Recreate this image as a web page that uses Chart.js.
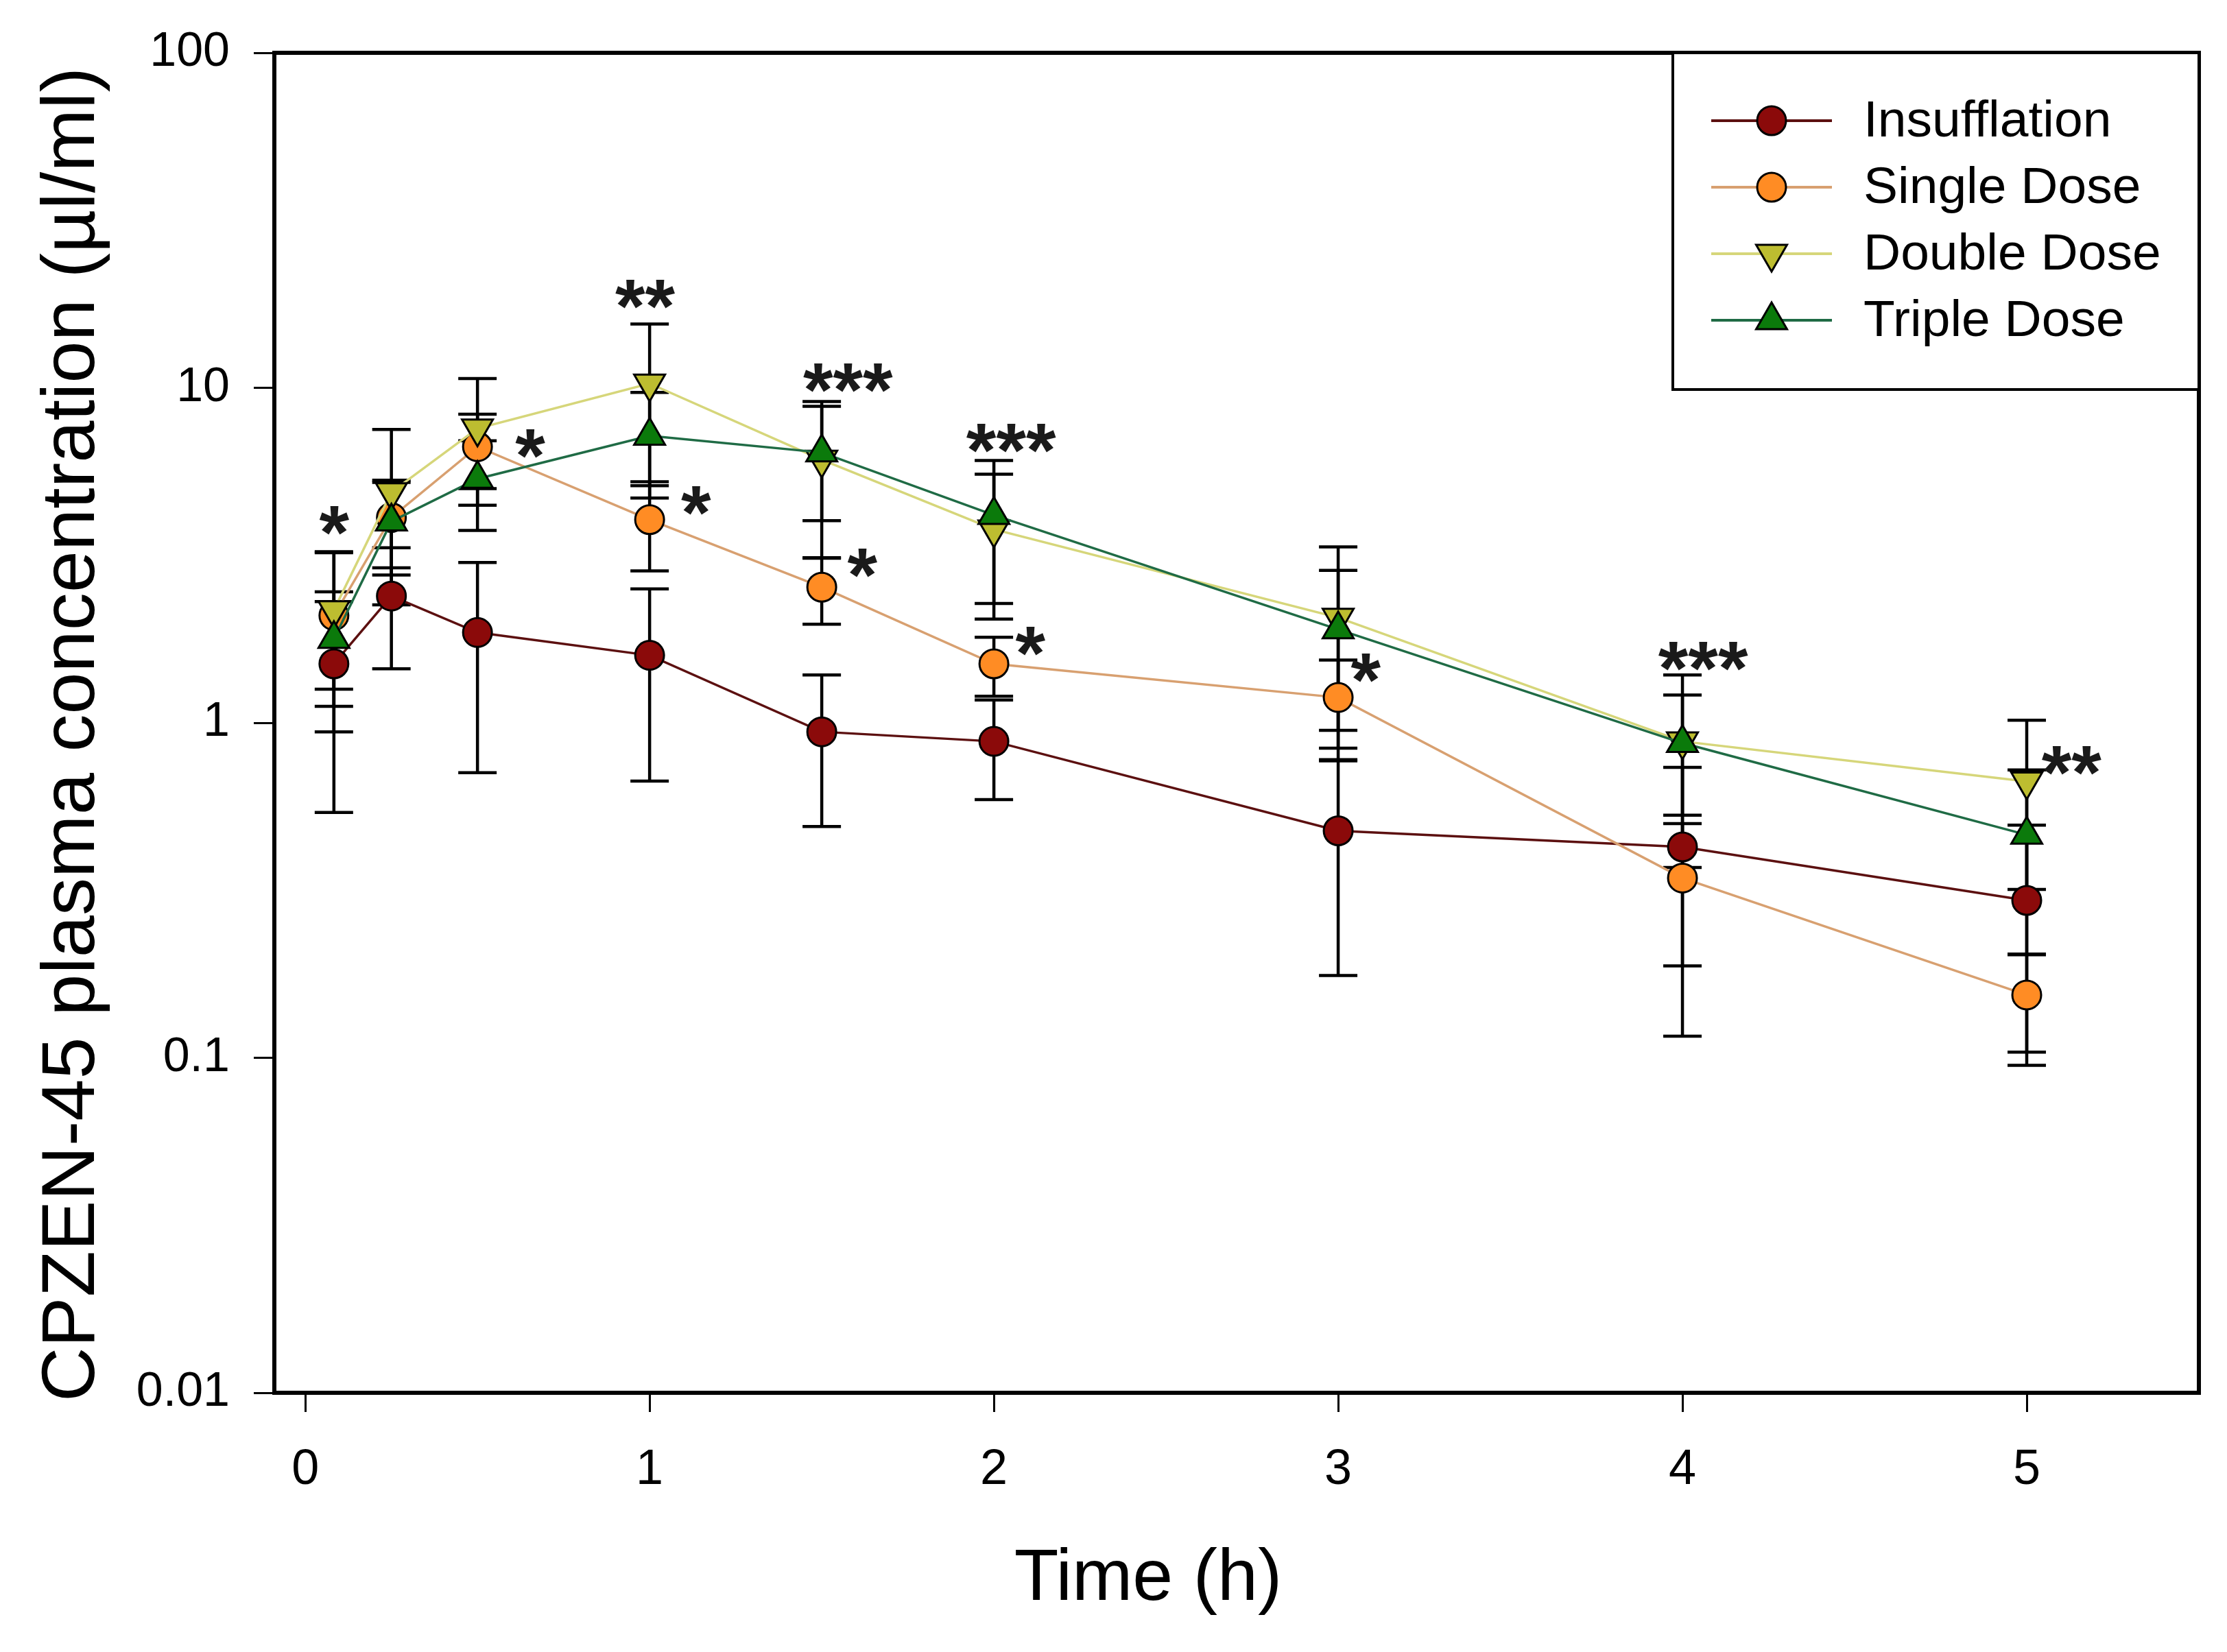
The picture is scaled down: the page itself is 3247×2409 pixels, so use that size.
<!DOCTYPE html>
<html>
<head>
<meta charset="utf-8">
<title>CPZEN-45 plasma concentration</title>
<script src="https://cdn.jsdelivr.net/npm/chart.js@4.4.1/dist/chart.umd.min.js"></script>
<style>
  html, body { margin: 0; padding: 0; background: #fff; }
  #wrap { width: 3247px; height: 2409px; }
</style>
</head>
<body>
<div id="wrap"><canvas id="pkChart" width="3247" height="2409"></canvas></div>
<script>
// time points (h)
const timePoints = [0.083, 0.25, 0.5, 1, 1.5, 2, 3, 4, 5];

// means and SD
const insufflationMean = [1.50, 2.39, 1.86, 1.59, 0.94, 0.88, 0.476, 0.426, 0.295];
const insufflationSD   = [0.96, 0.94, 1.15, 0.92, 0.45, 0.29, 0.30, 0.31, 0.20];

const singleMean = [2.09, 4.10, 6.67, 4.04, 2.54, 1.50, 1.19, 0.344, 0.154];
const singleSD   = [1.15, 1.20, 1.67, 1.20, 0.57, 0.30, 0.35, 0.156, 0.05];

const doubleMean = [2.17, 4.88, 7.56, 10.3, 6.10, 3.78, 2.06, 0.88, 0.668];
const doubleSD   = [1.05, 2.63, 3.10, 5.20, 3.00, 1.74, 1.29, 0.51, 0.35];

const tripleMean = [1.78, 3.99, 5.35, 7.19, 6.41, 4.17, 1.90, 0.87, 0.463];
const tripleSD   = [0.52, 1.23, 1.60, 2.50, 2.40, 1.90, 0.95, 0.34, 0.26];

const seriesNames = ['Insufflation', 'Single Dose', 'Double Dose', 'Triple Dose'];

// significance marks
const starX    = [0.084, 0.653, 0.987, 1.135, 1.576, 1.618, 2.05, 2.106, 3.08, 4.06, 5.13];
const starY    = [4.01, 6.80, 19.0, 4.6, 10.7, 3.0, 7.07, 1.75, 1.46, 1.58, 0.77];
const starText = ['*', '*', '**', '*', '***', '*', '***', '*', '*', '***', '**'];

const xTickValues = [0, 1, 2, 3, 4, 5];
const yTickValues = [0.01, 0.1, 1, 10, 100];
const yTickLabels = ['0.01', '0.1', '1', '10', '100'];

const FONT = '"Liberation Sans", Arial, sans-serif';

function points(mean) {
    return timePoints.map((t, i) => ({ x: t, y: mean[i] }));
}

const sds = [insufflationSD, singleSD, doubleSD, tripleSD];

const extras = {
    id: 'extras',
    beforeDatasetsDraw(chart) {
        // SD error bars, under the markers
        const ctx = chart.ctx;
        const xs = chart.scales.x, ys = chart.scales.y;
        ctx.save();
        ctx.strokeStyle = '#000';
        ctx.lineWidth = 4.5;
        chart.data.datasets.forEach((ds, i) => {
            ds.data.forEach((p, j) => {
                const sd = sds[i][j];
                const hi = p.y + sd;
                const lo = Math.max(p.y - sd, 0.005);
                const px = xs.getPixelForValue(p.x);
                const yHi = ys.getPixelForValue(hi);
                const yLo = ys.getPixelForValue(lo);
                ctx.beginPath();
                ctx.moveTo(px, yHi); ctx.lineTo(px, yLo);
                ctx.moveTo(px - 28, yHi); ctx.lineTo(px + 28, yHi);
                if (p.y - sd > 0) { ctx.moveTo(px - 28, yLo); ctx.lineTo(px + 28, yLo); }
                ctx.stroke();
            });
        });
        ctx.restore();
    },
    afterDraw(chart) {
        const ctx = chart.ctx;
        const a = chart.chartArea;
        const xs = chart.scales.x, ys = chart.scales.y;
        ctx.save();

        // frame
        ctx.strokeStyle = '#000';
        ctx.lineWidth = 6;
        ctx.strokeRect(a.left, a.top, a.right - a.left, a.bottom - a.top);

        // asterisks
        ctx.fillStyle = '#1a1a1a';
        ctx.font = 'bold 112px ' + FONT;
        ctx.textAlign = 'center';
        ctx.textBaseline = 'alphabetic';
        starText.forEach((s, i) => {
            const m = ctx.measureText(s);
            const cy = ys.getPixelForValue(starY[i]);
            const off = (m.actualBoundingBoxAscent - m.actualBoundingBoxDescent) / 2;
            ctx.fillText(s, xs.getPixelForValue(starX[i]), cy + off);
        });

        // legend box
        const lx = 2439, ly = a.top, lw = a.right - 2439, lh = 491;
        ctx.fillStyle = '#fff';
        ctx.fillRect(lx, ly, lw, lh);
        ctx.lineWidth = 4;
        ctx.strokeRect(lx, ly, lw, lh);
        ctx.font = '75px ' + FONT;
        ctx.textAlign = 'left';
        ctx.textBaseline = 'middle';
        chart.data.datasets.forEach((ds, i) => {
            const y = 176 + i * 97;
            ctx.strokeStyle = ds.borderColor;
            ctx.lineWidth = 4;
            ctx.beginPath();
            ctx.moveTo(2495, y); ctx.lineTo(2671, y);
            ctx.stroke();
            ctx.fillStyle = ds.pointBackgroundColor;
            ctx.strokeStyle = '#000';
            ctx.lineWidth = 3;
            Chart.helpers.drawPoint(ctx, {
                pointStyle: ds.pointStyle,
                radius: ds.pointRadius,
                rotation: ds.pointRotation || 0,
                borderWidth: 3
            }, 2583, y);
            ctx.fillStyle = '#000';
            ctx.fillText(ds.label, 2717, y + 2);
        });

        // axis titles
        ctx.fillStyle = '#000';
        ctx.font = '106px ' + FONT;
        ctx.textAlign = 'center';
        ctx.textBaseline = 'alphabetic';
        ctx.fillText('Time (h)', 1674, 2333);
        ctx.translate(137, 1071);
        ctx.rotate(-Math.PI / 2);
        ctx.font = '110px ' + FONT;
        ctx.fillText('CPZEN-45 plasma concentration (µl/ml)', 0, 0);
        ctx.restore();
    }
};

function series(label, mean, line, fill, style, rot, order) {
    return {
        label: label,
        data: points(mean),
        borderColor: line,
        borderWidth: 3.5,
        pointBackgroundColor: fill,
        pointBorderColor: '#000',
        pointBorderWidth: 3,
        pointStyle: style,
        pointRotation: rot,
        pointRadius: style === 'circle' ? 21 : 26,
        tension: 0,
        order: order
    };
}

new Chart(document.getElementById('pkChart'), {
    type: 'line',
    data: {
        datasets: [
            series(seriesNames[0], insufflationMean, '#5C1010', '#8B0A0A', 'circle', 0, 4),
            series(seriesNames[1], singleMean, '#D8A070', '#FF8C24', 'circle', 0, 3),
            series(seriesNames[2], doubleMean, '#D6D67A', '#BDBD30', 'triangle', 180, 2),
            series(seriesNames[3], tripleMean, '#1F6B45', '#0B7A0B', 'triangle', 0, 1)
        ]
    },
    options: {
        responsive: false,
        animation: false,
        devicePixelRatio: 1,
        layout: { padding: { left: 0, top: 76, right: 41, bottom: 0 } },
        plugins: { legend: { display: false }, tooltip: { enabled: false } },
        scales: {
            x: {
                type: 'linear',
                min: -0.09,
                max: 5.5,
                afterBuildTicks: s => { s.ticks = xTickValues.map(v => ({ value: v })); },
                afterFit: s => { s.height = 378; },
                border: { display: false },
                grid: { drawOnChartArea: false, drawTicks: true, tickLength: 28, tickWidth: 3, tickColor: '#000' },
                ticks: { color: '#000', padding: 42, font: { family: FONT, size: 72 }, maxRotation: 0 }
            },
            y: {
                type: 'logarithmic',
                min: 0.01,
                max: 100,
                afterBuildTicks: s => { s.ticks = yTickValues.map(v => ({ value: v })); },
                afterFit: s => { s.width = 400; },
                border: { display: false },
                grid: { drawOnChartArea: false, drawTicks: true, tickLength: 30, tickWidth: 3, tickColor: '#000' },
                ticks: {
                    color: '#000', padding: 35, font: { family: FONT, size: 70 },
                    callback: v => yTickLabels[yTickValues.indexOf(v)]
                }
            }
        }
    },
    plugins: [extras]
});
</script>
</body>
</html>
